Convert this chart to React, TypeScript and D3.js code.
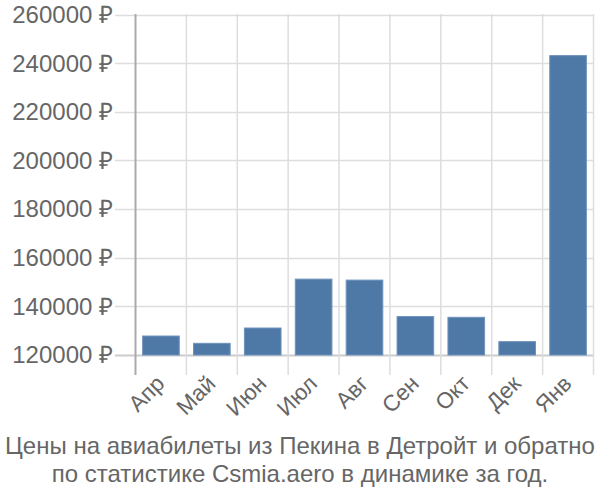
import React from "react";
import * as d3 from "d3";

const categories = ["Апр", "Май", "Июн", "Июл", "Авг", "Сен", "Окт", "Дек", "Янв"];
const values = [127800, 124800, 131100, 151200, 150800, 135800, 135500, 125500, 243100];
const yTicks = [120000, 140000, 160000, 180000, 200000, 220000, 240000, 260000];
const captionLines = [
  "Цены на авиабилеты из Пекина в Детройт и обратно",
  "по статистике Csmia.aero в динамике за год.",
];

const W = 600;
const H = 500;
const left = 135.5;
const right = 593.5;
const top = 14;
const bottom = 375;
const font = "'Liberation Sans', Arial, sans-serif";

export default function App() {
  const x = d3.scaleBand<string>().domain(categories).range([left, right]).paddingInner(0.28).paddingOuter(0.14);
  const xLines = d3.scaleBand<string>().domain(categories).range([left, right]);
  const y = d3.scaleLinear().domain([120000, 260000]).range([355, 14.5]);
  const base = y(120000);

  return (
    <svg width={W} height={H} style={{ position: "absolute", left: 0, top: 0 }} fontFamily={font}>
      {yTicks.map((t) => (
        <line key={"h" + t} x1={115} x2={right} y1={Math.round(y(t)) + 0.5} y2={Math.round(y(t)) + 0.5}
          stroke={t === 120000 ? "#cccccc" : "#dddddd"} strokeWidth={t === 120000 ? 2 : 1.5} />
      ))}
      {categories.map((c, i) => (
        <line key={"v" + c} x1={xLines(c) as number} x2={xLines(c) as number}
          y1={top} y2={bottom} stroke={i === 0 ? "#aaaaaa" : "#dddddd"} strokeWidth={i === 0 ? 2 : 1.5} />
      ))}
      <line x1={right} x2={right} y1={top} y2={bottom} stroke="#dddddd" strokeWidth={1.5} />
      {categories.map((c, i) => (
        <rect key={"b" + c} x={x(c)} y={y(values[i])} width={x.bandwidth()} height={base - y(values[i])}
          fill="#4e79a7" stroke="#6f93bd" strokeWidth={1} />
      ))}
      {yTicks.map((t) => (
        <text key={"yl" + t} x={113} y={y(t)} dy="0.35em" textAnchor="end" fontSize={24} fill="#666666">
          {t} ₽
        </text>
      ))}
      {categories.map((c) => {
        const cx = (x(c) as number) + x.bandwidth() / 2 + 5;
        return (
          <text key={"xl" + c} transform={`translate(${cx},${385}) rotate(-45)`} textAnchor="end"
            fontSize={22.5} fill="#666666">
            {c}
          </text>
        );
      })}
      {captionLines.map((l, i) => (
        <text key={"c" + i} x={300} y={454 + i * 27.5} textAnchor="middle" fontSize={24} fill="#666666">
          {l}
        </text>
      ))}
    </svg>
  );
}
